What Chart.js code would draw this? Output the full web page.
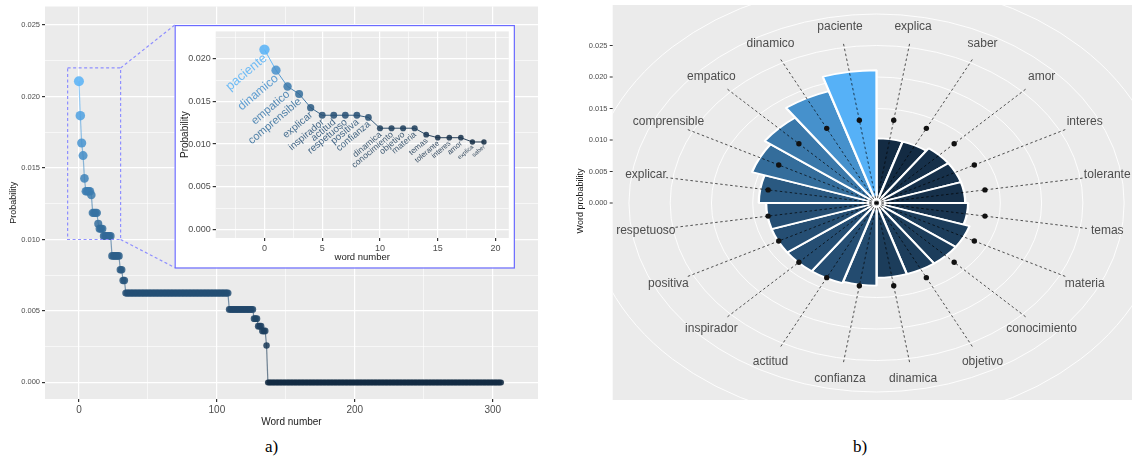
<!DOCTYPE html>
<html><head><meta charset="utf-8">
<script src="https://cdn.jsdelivr.net/npm/chart.js@4.4.1/dist/chart.umd.min.js"></script>
<style>
html,body{margin:0;padding:0;background:#fff;width:1132px;height:459px;overflow:hidden;font-family:"Liberation Sans",Arial,sans-serif}
.abs{position:absolute}
.cap{position:absolute;font-family:"Liberation Serif","Times New Roman",serif;font-size:17px;line-height:17px;color:#000}
</style></head>
<body>
<div class="abs" style="left:0;top:0"><canvas id="main" width="560" height="432" style="width:560px;height:432px"></canvas></div>
<div class="abs" style="left:176px;top:24px"><canvas id="inset" width="338" height="243" style="width:338px;height:243px"></canvas></div>
<div class="abs" style="left:570px;top:0"><canvas id="polar" width="562" height="405" style="width:562px;height:405px"></canvas></div>
<div class="cap" style="left:265px;top:438px">a)</div>
<div class="cap" style="left:853px;top:438px">b)</div>
<script>
// ---------------- data ----------------
const insetWords = ['paciente','dinamico','empatico','comprensible','explicar','inspirador','actitud','respetuoso','positiva','confianza','dinamica','conocimiento','objetivo','materia','temas','tolerante','interes','amor','explica','saber'];
const insetProb  = [0.02107,0.01866,0.01675,0.01587,0.01427,0.01338,0.01338,0.01338,0.01338,0.01312,0.01186,0.01186,0.01186,0.01186,0.01110,0.01075,0.01075,0.01075,0.01025,0.01025];
// remaining words (20 .. 306), read as runs of equal probability
const tailRunProb   = [0.01025,0.00885,0.00788,0.00713,0.00625,0.00511,0.00446,0.00393,0.00360,0.00258,0];
const tailRunLength = [4,6,2,2,75,18,3,3,3,1,170];

const polarWords = ['explica','saber','amor','interes','tolerante','temas','materia','conocimiento','objetivo','dinamica','confianza','actitud','inspirador','positiva','respetuoso','explicar','comprensible','empatico','dinamico','paciente'];
const polarProb  = [0.01025,0.01025,0.01075,0.01075,0.01075,0.01110,0.01186,0.01186,0.01186,0.01186,0.01312,0.01338,0.01338,0.01338,0.01338,0.01427,0.01587,0.01675,0.01866,0.02107];
const meanProb = 0.0133;

const mainXTicks = [0,100,200,300];
const mainXMinor = [50,150,250];
const mainYTicks = [0,0.005,0.010,0.015,0.020,0.025];
const mainYMinor = [0.0025,0.0075,0.0125,0.0175,0.0225];
const insetXTicks = [0,5,10,15,20];
const insetXMinor = [-2.5,2.5,7.5,12.5,17.5];
const insetYTicks = [0,0.005,0.010,0.015,0.020];
const insetYMinor = [0.0025,0.0075,0.0125,0.0175,0.0225];
const polarRTicks = [0,0.005,0.010,0.015,0.020,0.025];
const polarGrid = [0.005,0.010,0.015,0.020,0.025,0.030,0.035];

// ---------------- styling ----------------
// ggplot-like gradient (#132B43 -> #56B1F7) interpolated in CIELAB
const LOW = [19,43,67], HIGH = [86,177,247];
function toLab(rgb){
  const lin=rgb.map(c=>{c/=255;return c<=0.04045?c/12.92:Math.pow((c+0.055)/1.055,2.4);});
  const X=(0.4124*lin[0]+0.3576*lin[1]+0.1805*lin[2])/0.95047,Y=0.2126*lin[0]+0.7152*lin[1]+0.0722*lin[2],Z=(0.0193*lin[0]+0.1192*lin[1]+0.9505*lin[2])/1.08883;
  const f=t=>t>0.008856?Math.cbrt(t):7.787*t+16/116;
  return [116*f(Y)-16,500*(f(X)-f(Y)),200*(f(Y)-f(Z))];
}
function fromLab(L,a,b){
  const fy=(L+16)/116,fx=fy+a/500,fz=fy-b/200;
  const fi=f=>{const f3=f*f*f;return f3>0.008856?f3:(f-16/116)/7.787;};
  const X=fi(fx)*0.95047,Y=fi(fy),Z=fi(fz)*1.08883;
  const lin=[3.2406*X-1.5372*Y-0.4986*Z,-0.9689*X+1.8758*Y+0.0415*Z,0.0557*X-0.2040*Y+1.0570*Z];
  return lin.map(v=>{v=v<=0.0031308?12.92*v:1.055*Math.pow(v,1/2.4)-0.055;return Math.round(Math.max(0,Math.min(1,v))*255);});
}
const LOWLAB=toLab(LOW),HIGHLAB=toLab(HIGH);
function grad(t,a){const l=LOWLAB.map((v,i)=>v+(HIGHLAB[i]-v)*t);const c=fromLab(l[0],l[1],l[2]);return `rgba(${c[0]},${c[1]},${c[2]},${a})`;}
const PANEL = '#EBEBEB';
const FONT = '"Liberation Sans", Arial, sans-serif';
Chart.defaults.font.family = FONT;

const mainProb = insetProb.slice();
tailRunProb.forEach((p,k)=>{for(let j=0;j<tailRunLength[k];j++) mainProb.push(p);});
const mainMax = Math.max(...mainProb);
const iMin = Math.min(...insetProb), iMax = Math.max(...insetProb);
const insetT = v => (v-iMin)/(iMax-iMin);
const pMin = Math.min(...polarProb), pMax = Math.max(...polarProb);

const zoomRegion  = {x0:-8.2, x1:30.2, y0:0.010, y1:0.022};
const insetRegion = {x0:69.4, x1:315.3, y0:0.00804, y1:0.025};

const panelBg = {id:'panelBg', beforeDraw(chart){const a=chart.chartArea,c=chart.ctx;c.save();c.fillStyle=PANEL;c.fillRect(a.left,a.top,a.right-a.left,a.bottom-a.top);c.restore();}};

function axisCfg(min,max,major,minor,fmt,fontSize,extra){
  return Object.assign({
    type:'linear',min,max,
    afterBuildTicks:s=>{s.ticks=[...major,...minor].sort((a,b)=>a-b).map(v=>({value:v}));},
    ticks:{callback:v=>major.includes(v)?fmt(v):'',font:{size:fontSize},color:'#4d4d4d',autoSkip:false,maxRotation:0,padding:2},
    grid:{color:'#ffffff',lineWidth:c=>major.includes(c.tick&&c.tick.value)?1.2:0.6,
          tickColor:c=>major.includes(c.tick&&c.tick.value)?'#333333':'rgba(0,0,0,0)',tickLength:3},
    border:{display:false}
  },extra);
}

// ---------------- main chart ----------------
const zoomPlugin = {id:'zoomBox', afterDraw(chart){
  const c=chart.ctx,X=v=>chart.scales.x.getPixelForValue(v),Y=v=>chart.scales.y.getPixelForValue(v);
  c.save();
  c.strokeStyle='#8f8fff';c.lineWidth=1.2;c.setLineDash([3,2.5]);
  c.strokeRect(X(zoomRegion.x0),Y(zoomRegion.y1),X(zoomRegion.x1)-X(zoomRegion.x0),Y(zoomRegion.y0)-Y(zoomRegion.y1));
  c.beginPath();c.moveTo(X(zoomRegion.x1),Y(zoomRegion.y1));c.lineTo(X(insetRegion.x0),Y(insetRegion.y1));
  c.moveTo(X(zoomRegion.x1),Y(zoomRegion.y0));c.lineTo(X(insetRegion.x0),Y(insetRegion.y0));c.stroke();
  c.setLineDash([]);
  c.fillStyle='#ffffff';
  const bx=X(insetRegion.x0),by=Y(insetRegion.y1),bw=X(insetRegion.x1)-bx,bh=Y(insetRegion.y0)-by;
  c.fillRect(bx,by,bw,bh);c.strokeStyle='#6b6bff';c.lineWidth=1.2;c.strokeRect(bx+0.5,by+0.5,bw,bh);
  c.restore();
}};

new Chart(document.getElementById('main'),{
  type:'scatter',
  data:{datasets:[{
    data:mainProb.map((y,x)=>({x,y})),
    showLine:true,borderWidth:1.2,
    segment:{borderColor:c=>grad(c.p0.parsed.y/mainMax,0.6)},
    pointRadius:c=>3+2*(c.raw.y/mainMax),
    pointBackgroundColor:c=>grad(c.raw.y/mainMax,0.85),
    pointBorderWidth:0,pointHoverRadius:0
  }]},
  options:{responsive:false,animation:false,events:[],
    layout:{padding:{left:0,top:5,right:22,bottom:0}},
    plugins:{legend:{display:false},tooltip:{enabled:false}},
    scales:{
      x:axisCfg(-24.6,332.8,mainXTicks,mainXMinor,v=>String(v),10,{
        afterFit:s=>{s.height=33;},
        title:{display:true,text:'Word number',font:{size:10},color:'#1a1a1a',padding:{top:0,bottom:4}}}),
      y:axisCfg(-0.00116,0.0263,mainYTicks,mainYMinor,v=>v.toFixed(3),7.5,{
        afterFit:s=>{s.width=45;},
        title:{display:true,text:'Probability',font:{size:9},color:'#1a1a1a',padding:{top:8.6,bottom:0}}})
    }},
  plugins:[panelBg,zoomPlugin]
});

// ---------------- inset chart ----------------
const insetLabels = {id:'insetLabels', beforeDatasetsDraw(chart){
  const meta=chart.getDatasetMeta(0),c=chart.ctx;
  meta.data.forEach((pt,i)=>{
    const t=insetT(insetProb[i]);const fs=6+7*Math.sqrt(t);
    c.save();c.translate(pt.x-0.25*fs,pt.y+2);c.rotate(-40*Math.PI/180);
    c.font=`${fs.toFixed(1)}px ${FONT}`;c.fillStyle=grad(t,0.85);c.textAlign='right';c.textBaseline='top';
    c.fillText(insetWords[i],0,0);c.restore();
  });
}};
new Chart(document.getElementById('inset'),{
  type:'scatter',
  data:{datasets:[{
    data:insetProb.map((y,x)=>({x,y})),
    showLine:true,borderWidth:1,
    segment:{borderColor:c=>grad(insetT(c.p0.parsed.y),0.9)},
    pointRadius:c=>2.7+2.5*insetT(c.raw.y),
    pointBackgroundColor:c=>grad(insetT(c.raw.y),0.85),
    pointBorderWidth:0,pointHoverRadius:0
  }]},
  options:{responsive:false,animation:false,events:[],
    layout:{padding:{left:0,top:3,right:2.3,bottom:0}},
    plugins:{legend:{display:false},tooltip:{enabled:false}},
    scales:{
      x:axisCfg(-4.22,21.15,insetXTicks,insetXMinor,v=>String(v),9,{
        afterFit:s=>{s.height=29;},
        title:{display:true,text:'word number',font:{size:9.5},color:'#1a1a1a',padding:{top:0,bottom:4.3}}}),
      y:axisCfg(-0.001,0.0232,insetYTicks,insetYMinor,v=>v.toFixed(3),9,{
        afterFit:s=>{s.width=39.7;},
        title:{display:true,text:'Probability',font:{size:10},color:'#1a1a1a',padding:{top:3,bottom:0}}})
    }},
  plugins:[panelBg,insetLabels]
});

// ---------------- polar chart ----------------
const S = 1.31;               // horizontal stretch of the polar panel
const PX0=42.7,PY0=5,PX1=562,PY1=400;
const polarPlugin = {id:'polarDeco',
  beforeDraw(chart){
    const c=chart.ctx,r=chart.scales.r;
    c.save();
    c.fillStyle=PANEL;c.fillRect(PX0,PY0,PX1-PX0,PY1-PY0);
    c.beginPath();c.rect(PX0,PY0,PX1-PX0,PY1-PY0);c.clip();
    c.strokeStyle='rgba(255,255,255,0.9)';c.lineWidth=1;
    polarGrid.forEach(v=>{const d=r.getDistanceFromCenterForValue(v);c.beginPath();c.ellipse(S*r.xCenter,r.yCenter,S*d,d,0,0,2*Math.PI);c.stroke();});
    c.scale(S,1);
  },
  afterDraw(chart){
    const c=chart.ctx,r=chart.scales.r;
    c.restore();
    const n=polarWords.length;
    const pos=(i,v)=>{const a=(i+0.5)*2*Math.PI/n,d=r.getDistanceFromCenterForValue(v);return [S*(r.xCenter+d*Math.sin(a)),r.yCenter-d*Math.cos(a)];};
    c.save();
    c.strokeStyle='rgba(0,0,0,0.75)';c.lineWidth=0.9;c.setLineDash([2.5,2.5]);
    for(let i=0;i<n;i++){const [x,y]=pos(i,0.0258);c.beginPath();c.moveTo(S*r.xCenter,r.yCenter);c.lineTo(x,y);c.stroke();}
    c.setLineDash([]);
    c.fillStyle='#111111';
    for(let i=0;i<n;i++){const [x,y]=pos(i,meanProb);c.beginPath();c.arc(x,y,2.7,0,2*Math.PI);c.fill();}
    c.font=`12px ${FONT}`;c.fillStyle='#4d4d4d';c.textAlign='center';c.textBaseline='middle';
    for(let i=0;i<n;i++){const [x,y]=pos(i,0.0283);c.fillText(polarWords[i],x,y);}
    c.font=`7.5px ${FONT}`;c.textAlign='right';
    polarRTicks.forEach(v=>{const y=r.yCenter-r.getDistanceFromCenterForValue(v);
      c.fillStyle='#4d4d4d';c.fillText(v.toFixed(3),37.5,y);
      c.strokeStyle='#333333';c.lineWidth=1;c.beginPath();c.moveTo(39.7,y);c.lineTo(42.7,y);c.stroke();});
    c.translate(11,201);c.rotate(-Math.PI/2);c.font=`9px ${FONT}`;c.fillStyle='#1a1a1a';c.textAlign='center';
    c.fillText('Word probability',0,0);
    c.restore();
  }};
new Chart(document.getElementById('polar'),{
  type:'polarArea',
  data:{labels:polarWords,datasets:[{data:polarProb,
    backgroundColor:polarProb.map(v=>grad((v-pMin)/(pMax-pMin),1)),
    borderColor:'#ffffff',borderWidth:1.8}]},
  options:{responsive:false,animation:false,events:[],
    layout:{padding:{left:45.5,right:138.5,top:14,bottom:13}},
    plugins:{legend:{display:false},tooltip:{enabled:false}},
    scales:{r:{min:0,max:0.030,ticks:{display:false,stepSize:0.005},grid:{display:false},angleLines:{display:false},pointLabels:{display:false}}}},
  plugins:[polarPlugin]
});
</script>
</body></html>
